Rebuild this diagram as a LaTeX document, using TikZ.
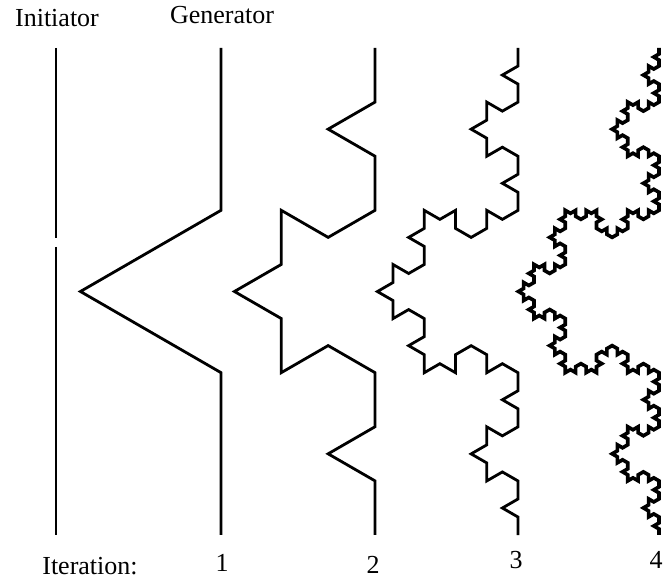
\documentclass[tikz,border=0pt]{standalone}
\usepackage{fontspec}
\setmainfont{Liberation Serif}
\usepackage{tikz}
\usetikzlibrary{lindenmayersystems}

\pgfdeclarelindenmayersystem{koch}{
  \rule{F -> F-F++F-F}
}

\begin{document}
\begin{tikzpicture}[
  x=1pt, y=1pt,
  curve/.style={line width=2.8pt, line join=miter, black},
  lbl/.style={font=\fontsize{26}{30}\selectfont, inner sep=0pt},
  kochgen/.style={curve, lindenmayer system={koch, axiom=F, angle=60, order=#1}}
]
  \useasboundingbox (0,0) rectangle (665,581);

  % Headings
  \node[lbl] (init) at (57,563) {Initiator};
  \node[lbl] (gen) at (222,566) {Generator};

  % Initiator (straight line)
  \coordinate (itop) at (56,533);
  \coordinate (igapa) at (56,343);
  \coordinate (igapb) at (56,334);
  \coordinate (ibot) at (56,46);
  \draw[curve, line width=2.4pt] (itop) -- (igapa) (igapb) -- (ibot);

  % Iteration 1 = generator
  \begin{scope}[shift={(221,533)}, rotate=-90]
    \draw[kochgen=1, lindenmayer system={step=162.33pt}] (0,0) lindenmayer system;
  \end{scope}

  % Iteration 2
  \begin{scope}[shift={(375,533)}, rotate=-90]
    \draw[kochgen=2, lindenmayer system={step=54.11pt}] (0,0) lindenmayer system;
  \end{scope}

  % Iteration 3
  \begin{scope}[shift={(518,533)}, rotate=-90]
    \draw[kochgen=3, lindenmayer system={step=18.04pt}] (0,0) lindenmayer system;
  \end{scope}

  % Iteration 4
  \begin{scope}[shift={(659,533)}, rotate=-90]
    \draw[kochgen=4, lindenmayer system={step=6.012pt}, line width=3.6pt] (0,0) lindenmayer system;
  \end{scope}

  % Iteration numbers
  \node[lbl] (iter) at (90,15) {Iteration:};
  \node[lbl] (n1) at (222,18) {1};
  \node[lbl] (n2) at (373,16) {2};
  \node[lbl] (n3) at (516,21) {3};
  \node[lbl] (n4) at (656,21) {4};
\end{tikzpicture}
\end{document}
